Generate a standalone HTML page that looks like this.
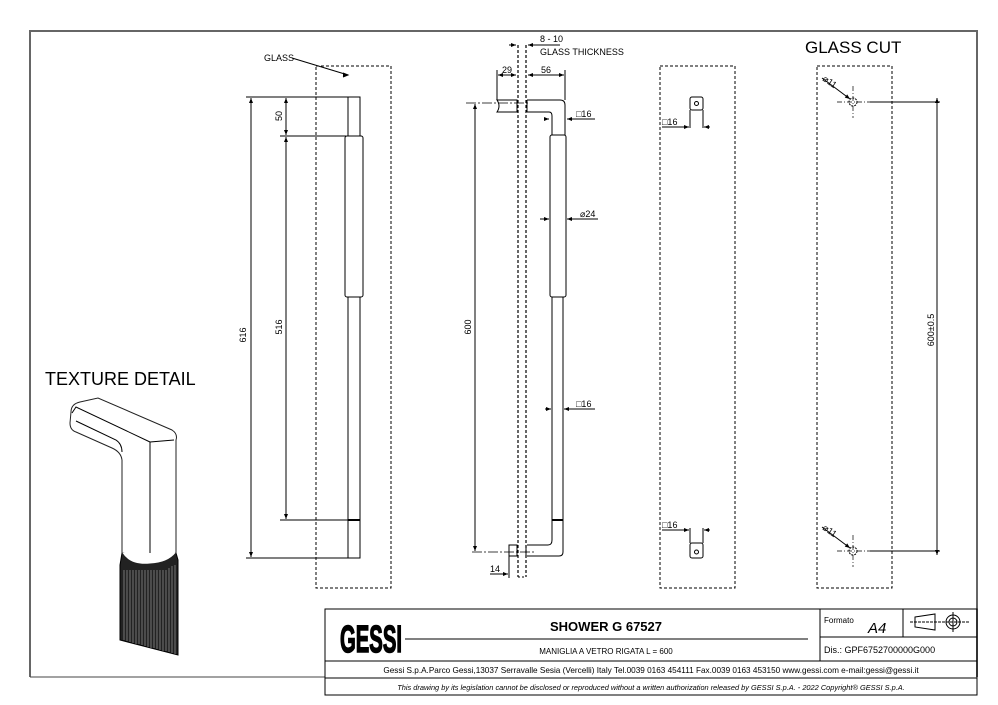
<!DOCTYPE html>
<html><head><meta charset="utf-8"><style>
html,body{margin:0;padding:0;background:#fff;}
svg{display:block;font-family:"Liberation Sans",Arial,sans-serif;}
</style></head><body>
<svg width="998" height="705" viewBox="0 0 998 705" xmlns="http://www.w3.org/2000/svg">
<defs>
<marker id="a" viewBox="0 0 10 10" refX="10" refY="5" markerWidth="7" markerHeight="5" orient="auto-start-reverse"><path d="M0,1 L10,5 L0,9z" fill="#000"/></marker>
</defs>
<rect width="998" height="705" fill="#fff"/>
<path d="M30,677 V31 H977 V677" fill="none" stroke="#666" stroke-width="2"/>
<line x1="30" y1="677" x2="325" y2="677" stroke="#444" stroke-width="1"/>

<g stroke="#000" fill="none" stroke-width="1">
<rect x="316" y="66" width="75" height="522" stroke-dasharray="3,2"/>
<line x1="292" y1="58" x2="348" y2="75"/>
<path d="M343,73 L348,75 L343,77" fill="#000"/>
<rect x="348" y="97" width="12" height="39" fill="#fff"/>
<rect x="345" y="136" width="18" height="161" rx="2" fill="#fff"/>
<rect x="348" y="297" width="12" height="223" fill="#fff"/>
<rect x="348" y="520" width="12" height="38" fill="#fff"/>
<line x1="348" y1="520" x2="360" y2="520" stroke-width="2"/>
<line x1="246" y1="97" x2="350" y2="97"/>
<line x1="246" y1="558" x2="350" y2="558"/>
<line x1="280" y1="136" x2="346" y2="136"/>
<line x1="280" y1="520" x2="348" y2="520"/>
<line x1="251" y1="98" x2="251" y2="557" marker-start="url(#a)" marker-end="url(#a)"/>
<line x1="286" y1="98" x2="286" y2="135" marker-start="url(#a)" marker-end="url(#a)"/>
<line x1="286" y1="137" x2="286" y2="519" marker-start="url(#a)" marker-end="url(#a)"/>

<line x1="518" y1="45" x2="518" y2="577" stroke-dasharray="3,2" stroke-width="1.2"/>
<line x1="526" y1="45" x2="526" y2="577" stroke-dasharray="3,2" stroke-width="1.2"/>
<line x1="518" y1="577" x2="526" y2="577" stroke-dasharray="2,2"/>
<path d="M497,100 H517 V112 H497 Q501,106 497,100Z" fill="#fff"/>
<path d="M527,100 H560 Q565,100 565,105 V135 M527,112 H549 Q552,112 552,116 V135 M527,100 V112"/>
<rect x="550" y="135" width="16" height="162" rx="2" fill="#fff"/>
<rect x="552" y="297" width="11" height="223" fill="#fff"/>
<line x1="552" y1="520" x2="563" y2="520" stroke-width="2"/>
<path d="M552,520 V540 Q552,545 548,545 H527 M563,520 V552 Q563,556 559,556 H527"/>
<rect x="509" y="545" width="8" height="11" fill="#fff"/>
<line x1="526" y1="545" x2="526" y2="556"/>
<line x1="466" y1="103" x2="530" y2="103" stroke-dasharray="10,2,2,2" stroke-width="0.7"/>
<line x1="472" y1="552" x2="535" y2="552" stroke-dasharray="10,2,2,2" stroke-width="0.7"/>
<line x1="475" y1="104" x2="475" y2="551" marker-start="url(#a)" marker-end="url(#a)"/>
<line x1="497" y1="70" x2="497" y2="100"/>
<line x1="565" y1="70" x2="565" y2="100"/>
<line x1="498" y1="75" x2="516" y2="75" marker-start="url(#a)" marker-end="url(#a)"/>
<line x1="528" y1="75" x2="564" y2="75" marker-start="url(#a)" marker-end="url(#a)"/>
<line x1="509" y1="45" x2="516" y2="45" marker-end="url(#a)"/>
<line x1="535" y1="45" x2="528" y2="45" marker-end="url(#a)"/>
<line x1="535" y1="45" x2="560" y2="45"/>
<line x1="545" y1="119" x2="549" y2="119" marker-end="url(#a)"/>
<line x1="572" y1="119" x2="567" y2="119" marker-end="url(#a)"/>
<line x1="572" y1="119" x2="595" y2="119"/>
<line x1="540" y1="219" x2="549" y2="219" marker-end="url(#a)"/>
<line x1="575" y1="219" x2="567" y2="219" marker-end="url(#a)"/>
<line x1="575" y1="219" x2="598" y2="219"/>
<line x1="545" y1="409" x2="551" y2="409" marker-end="url(#a)"/>
<line x1="572" y1="409" x2="564" y2="409" marker-end="url(#a)"/>
<line x1="572" y1="409" x2="595" y2="409"/>
<line x1="509" y1="556" x2="509" y2="578"/>
<line x1="490" y1="574" x2="508" y2="574" marker-end="url(#a)"/>

<rect x="660" y="66" width="75" height="522" stroke-dasharray="3,2"/>
<rect x="690" y="97" width="13" height="13" rx="2" fill="#fff"/>
<circle cx="696.5" cy="103.5" r="2"/>
<line x1="690" y1="110" x2="690" y2="128"/><line x1="703" y1="110" x2="703" y2="128"/>
<line x1="662" y1="127" x2="689" y2="127" marker-end="url(#a)"/>
<line x1="710" y1="127" x2="704" y2="127" marker-end="url(#a)"/>
<rect x="690" y="543" width="13" height="15" rx="2" fill="#fff"/>
<circle cx="696.5" cy="552" r="2"/>
<line x1="690" y1="528" x2="690" y2="543"/><line x1="703" y1="528" x2="703" y2="543"/>
<line x1="662" y1="530" x2="689" y2="530" marker-end="url(#a)"/>
<line x1="710" y1="530" x2="704" y2="530" marker-end="url(#a)"/>

<rect x="817" y="66" width="75" height="522" stroke-dasharray="3,2"/>
<circle cx="853" cy="102" r="4" stroke-dasharray="2,1"/>
<line x1="837" y1="102" x2="870" y2="102" stroke-dasharray="5,2,1,2" stroke-width="0.7"/>
<line x1="853" y1="86" x2="853" y2="118" stroke-dasharray="5,2,1,2" stroke-width="0.7"/>
<line x1="822" y1="78" x2="850" y2="99" marker-end="url(#a)"/>
<circle cx="853" cy="551" r="4" stroke-dasharray="2,1"/>
<line x1="837" y1="551" x2="870" y2="551" stroke-dasharray="5,2,1,2" stroke-width="0.7"/>
<line x1="853" y1="535" x2="853" y2="567" stroke-dasharray="5,2,1,2" stroke-width="0.7"/>
<line x1="822" y1="527" x2="850" y2="548" marker-end="url(#a)"/>
<line x1="870" y1="102" x2="940" y2="102"/>
<line x1="870" y1="551" x2="940" y2="551"/>
<line x1="937" y1="98" x2="937" y2="555" marker-start="url(#a)" marker-end="url(#a)"/>

<path d="M71,412 Q71,404 80,402 L98,398 L172,430 Q178,434 176,440 L176,553 Q165,559 150,558 L122,553 L122,460 Q121,452 112,448 L76,432 Q70,430 70,423Z" fill="#fff" stroke="#222"/>
<path d="M72,413 L76,407 L150,442 M150,442 L174,440 M150,442 L150,557 M76,421 L116,440 Q122,444 122,452"/>
<path d="M122,553 L120,565 L120,640 L178,655 L178,560 L176,553" fill="#222"/>
<path d="M122,553 Q130,566 150,564 Q168,563 176,553" fill="#fff" stroke="#222"/>
</g>
<g stroke="#999" stroke-width="0.7">
<line x1="124" y1="570" x2="124" y2="640"/><line x1="127" y1="570" x2="127" y2="641"/><line x1="130" y1="570" x2="130" y2="642"/><line x1="133" y1="570" x2="133" y2="643"/><line x1="136" y1="570" x2="136" y2="644"/><line x1="139" y1="570" x2="139" y2="644"/><line x1="142" y1="570" x2="142" y2="645"/><line x1="145" y1="570" x2="145" y2="646"/><line x1="148" y1="570" x2="148" y2="647"/><line x1="151" y1="570" x2="151" y2="648"/><line x1="154" y1="570" x2="154" y2="648"/><line x1="157" y1="570" x2="157" y2="649"/><line x1="160" y1="570" x2="160" y2="650"/><line x1="163" y1="570" x2="163" y2="651"/><line x1="166" y1="570" x2="166" y2="651"/><line x1="169" y1="568" x2="169" y2="652"/><line x1="172" y1="566" x2="172" y2="653"/><line x1="175" y1="565" x2="175" y2="654"/>
</g>

<g font-size="9" fill="#000">
<text x="264" y="61">GLASS</text>
<text x="246" y="335" transform="rotate(-90 246 335)" text-anchor="middle">616</text>
<text x="282" y="327" transform="rotate(-90 282 327)" text-anchor="middle">516</text>
<text x="282" y="116" transform="rotate(-90 282 116)" text-anchor="middle">50</text>
<text x="471" y="327" transform="rotate(-90 471 327)" text-anchor="middle">600</text>
<text x="540" y="42">8 - 10</text>
<text x="540" y="55">GLASS THICKNESS</text>
<text x="502" y="73">29</text>
<text x="541" y="73">56</text>
<text x="576" y="117">□16</text>
<text x="580" y="217">⌀24</text>
<text x="576" y="407">□16</text>
<text x="490" y="572">14</text>
<text x="662" y="125">□16</text>
<text x="662" y="528">□16</text>
<text x="822" y="80" transform="rotate(35 822 80)">⌀11</text>
<text x="822" y="529" transform="rotate(35 822 529)">⌀11</text>
<text x="934" y="330" transform="rotate(-90 934 330)" text-anchor="middle">600±0.5</text>
</g>
<text x="805" y="53" font-size="17">GLASS CUT</text>
<text x="45" y="385" font-size="18">TEXTURE DETAIL</text>

<g stroke="#000" fill="none" stroke-width="1">
<rect x="325" y="609" width="652" height="86"/>
<line x1="820" y1="609" x2="820" y2="661"/>
<line x1="325" y1="661" x2="977" y2="661"/>
<line x1="325" y1="678" x2="977" y2="678"/>
<line x1="820" y1="637" x2="977" y2="637"/>
<line x1="903" y1="609" x2="903" y2="637"/>
<line x1="405" y1="639" x2="808" y2="639"/>
<path d="M915,617 L935,614 L935,630 L915,627Z"/>
<line x1="910" y1="622" x2="970" y2="622" stroke-dasharray="3,1"/>
<circle cx="953" cy="622" r="7"/><circle cx="953" cy="622" r="4"/>
<line x1="953" y1="612" x2="953" y2="632"/>
</g>
<text x="340" y="652" font-size="38" font-weight="bold" font-family="Liberation Sans Narrow,Liberation Sans,sans-serif" textLength="62" lengthAdjust="spacingAndGlyphs" stroke="#000" stroke-width="1.5">GESSI</text>
<text x="606" y="631" font-size="13" font-weight="bold" text-anchor="middle">SHOWER G 67527</text>
<text x="606" y="654" font-size="8" text-anchor="middle">MANIGLIA A VETRO RIGATA L = 600</text>
<text x="824" y="623" font-size="8">Formato</text>
<text x="868" y="633" font-size="15" font-style="italic">A4</text>
<text x="824" y="653" font-size="9">Dis.: GPF6752700000G000</text>
<text x="651" y="673" font-size="8.2" text-anchor="middle">Gessi S.p.A.Parco Gessi,13037 Serravalle Sesia (Vercelli) Italy Tel.0039 0163 454111 Fax.0039 0163 453150 www.gessi.com e-mail:gessi@gessi.it</text>
<text x="651" y="690" font-size="7.4" font-style="italic" text-anchor="middle">This drawing by its legislation cannot be disclosed or reproduced without a written authorization released by GESSI S.p.A. - 2022 Copyright® GESSI S.p.A.</text>
</svg>
</body></html>
